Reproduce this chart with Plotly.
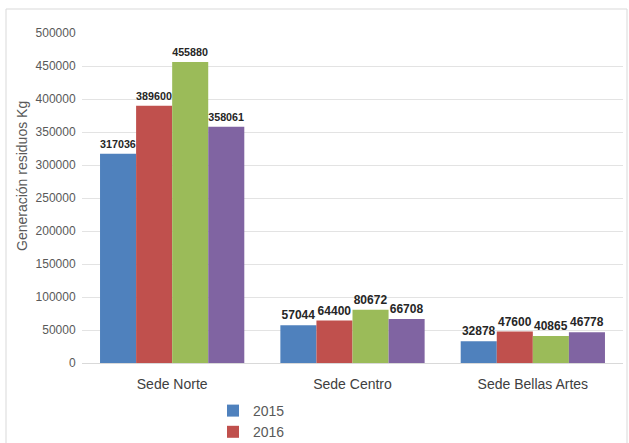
import plotly.graph_objects as go

categories = ["Sede Norte", "Sede Centro", "Sede Bellas Artes"]
series_names = ["2015", "2016", "2017", "2018"]
values_2015 = [317036, 57044, 32878]
values_2016 = [389600, 64400, 47600]
values_2017 = [455880, 80672, 40865]
values_2018 = [358061, 66708, 46778]
y_ticks = [0, 50000, 100000, 150000, 200000, 250000, 300000, 350000, 400000, 450000, 500000]

series_values = [values_2015, values_2016, values_2017, values_2018]
colors = ["#4F81BD", "#C0504D", "#9BBB59", "#8064A2"]
FONT = "Liberation Sans Narrow, Arial Narrow, Liberation Sans, sans-serif"

fig = go.Figure()
for name, vals, col in zip(series_names, series_values, colors):
    fig.add_trace(go.Bar(
        x=categories, y=vals, name=name, marker=dict(color=col, line=dict(width=0)),
        text=[str(v) for v in vals], textposition="outside", cliponaxis=False,
        textfont=dict(family=FONT, size=12, color="#262626"),
        texttemplate="<b>%{text}</b>",
    ))

L, R, T, B = 82, 6, 33, 80
W, H = 629, 443
pw, ph = W - L - R, H - T - B

fig.update_layout(
    width=W, height=H,
    margin=dict(l=L, r=R, t=T, b=B, autoexpand=False),
    paper_bgcolor="white", plot_bgcolor="white",
    barmode="group", bargap=0.2, bargroupgap=0,
    font=dict(family=FONT, color="#595959"),
    showlegend=True,
    legend=dict(orientation="v", x=(213 - L) / pw, xanchor="left",
                y=(H - 395 - B) / ph, yanchor="top",
                font=dict(family=FONT, size=14, color="#595959"),
                tracegroupgap=0, itemwidth=30),
    xaxis=dict(range=[-0.5, 2.5], showgrid=False, showline=True, linecolor="#D9D9D9",
               linewidth=1, ticks="outside", ticklen=8, tickcolor="rgba(0,0,0,0)",
               tickfont=dict(family=FONT, size=14, color="#404040")),
    yaxis=dict(range=[0, 500000], tickvals=y_ticks, ticktext=[str(v) for v in y_ticks],
               showgrid=True, gridcolor="#E3E3E3", gridwidth=1, zeroline=False, showline=False,
               ticks="outside", ticklen=3, tickcolor="rgba(0,0,0,0)",
               tickfont=dict(family=FONT, size=12, color="#595959")),
    annotations=[dict(text="Generación residuos Kg", textangle=-90, showarrow=False,
                      xref="paper", yref="paper", x=(22 - L) / pw, y=(H - B - 176) / ph,
                      xanchor="center", yanchor="middle",
                      font=dict(family="Liberation Sans, Arial, sans-serif", size=14, color="#595959"))],
    shapes=[dict(type="rect", xref="paper", yref="paper",
                 x0=(6 - L) / pw, x1=(627 - L) / pw, y0=-0.5, y1=(H - B - 9) / ph,
                 line=dict(color="#D9D9D9", width=1), layer="below")],
)

fig.write_html("out.html", config={"displayModeBar": False},
               post_script="document.body.style.margin='0';document.body.style.overflow='hidden';")
